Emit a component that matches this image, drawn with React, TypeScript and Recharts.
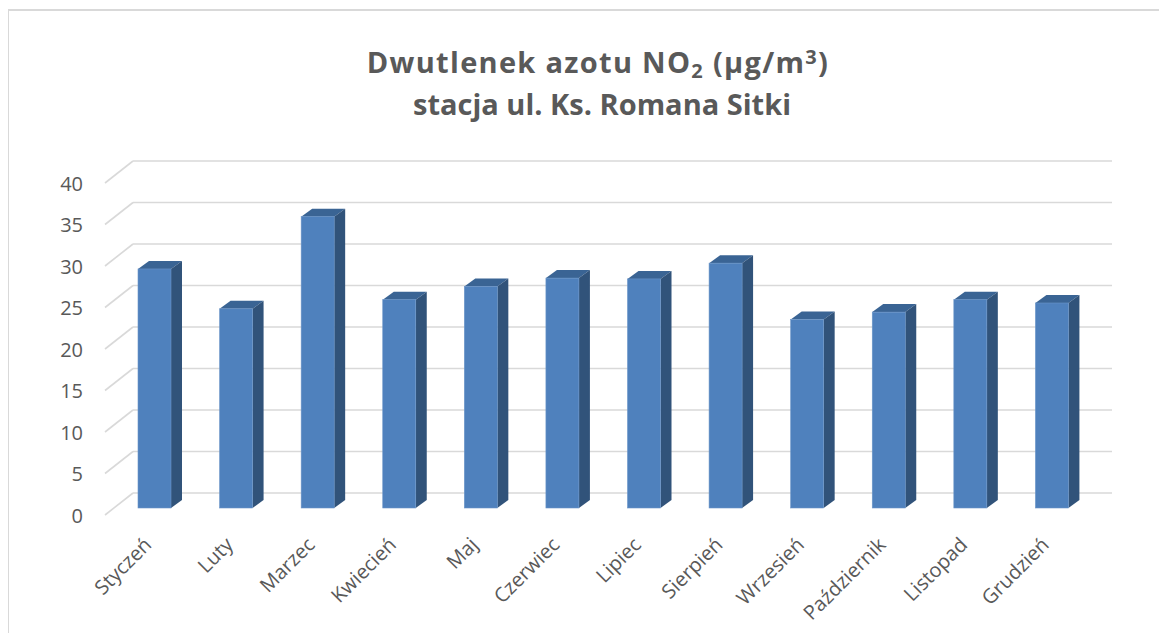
import { Bar, BarChart, CartesianGrid, XAxis, YAxis } from "recharts";

const months = [
  "Styczeń",
  "Luty",
  "Marzec",
  "Kwiecień",
  "Maj",
  "Czerwiec",
  "Lipiec",
  "Sierpień",
  "Wrzesień",
  "Październik",
  "Listopad",
  "Grudzień",
];
const no2 = [28.8, 24.0, 35.1, 25.1, 26.7, 27.7, 27.6, 29.5, 22.7, 23.6, 25.1, 24.7];
const yTicks = [0, 5, 10, 15, 20, 25, 30, 35, 40];

const data = months.map((m, i) => ({ month: m, value: no2[i] }));

const FONT = "'Open Sans', sans-serif";
const TEXT = "#595959";
const GRID = "#D9D9D9";

// perspective offsets, relative to the plane of the bars' front faces
const BACK = { dx: 19, dy: -15 };
const FRONT = { dx: -9, dy: 7 };
const DEPTH = { dx: 11, dy: -8 };
const WALL_RIGHT = 1112;

function Bar3D(props: any) {
  const { x, y, width, height } = props;
  const { dx, dy } = DEPTH;
  return (
    <g>
      <polygon
        points={`${x},${y} ${x + dx},${y + dy} ${x + width + dx},${y + dy} ${x + width},${y}`}
        fill="#3A6494"
      />
      <polygon
        points={`${x + width},${y} ${x + width + dx},${y + dy} ${x + width + dx},${y + height + dy} ${x + width},${y + height}`}
        fill="#31537A"
      />
      <rect x={x} y={y} width={width} height={height} fill="#4F81BD" stroke="#6B95C8" strokeWidth={0.6} />
    </g>
  );
}

function GridLine(props: any) {
  const { x1, y1 } = props;
  const xb = x1 + BACK.dx;
  const yb = y1 + BACK.dy;
  return (
    <g key={`g-${y1}`}>
      <line x1={xb} y1={yb} x2={WALL_RIGHT} y2={yb} stroke={GRID} strokeWidth={1.6} />
      <line x1={x1 + FRONT.dx} y1={y1 + FRONT.dy} x2={xb} y2={yb} stroke={GRID} strokeWidth={1.6} />
    </g>
  );
}

function YTick(props: any) {
  const { y, payload } = props;
  return (
    <text x={83} y={y + FRONT.dy} textAnchor="end" dominantBaseline="central" fill={TEXT} fontSize={20} fontFamily={FONT}>
      {payload.value}
    </text>
  );
}

function XTick(props: any) {
  const { x, payload } = props;
  const ax = x - 2;
  const ay = 546;
  return (
    <text
      x={ax}
      y={ay}
      textAnchor="end"
      fill={TEXT}
      fontSize={20}
      fontFamily={FONT}
      transform={`rotate(-45 ${ax} ${ay})`}
    >
      {payload.value}
    </text>
  );
}

const subStyle = { fontSize: 20, lineHeight: 0, verticalAlign: "-0.25em" } as const;
const supStyle = { fontSize: 20, lineHeight: 0, verticalAlign: "0.45em" } as const;

export default function App() {
  return (
    <div style={{ position: "relative", width: 1167, height: 641, margin: -8, background: "#fff", overflow: "hidden" }}>
      <div
        style={{
          position: "absolute",
          left: 7,
          top: 9,
          width: 1200,
          height: 700,
          borderLeft: `2px solid ${GRID}`,
          borderTop: `2px solid ${GRID}`,
        }}
      />
      <div
        style={{
          position: "absolute",
          left: 0,
          width: 1204,
          top: 41,
          textAlign: "center",
          fontFamily: FONT,
          fontWeight: 700,
          fontSize: 29,
          lineHeight: "42px",
          color: TEXT,
        }}
      >
        <div style={{ letterSpacing: 1.3, marginLeft: -8 }}>
          Dwutlenek azotu NO<span style={subStyle}>2</span> (µg/m<span style={supStyle}>3</span>)
        </div>
        <div>stacja ul. Ks. Romana Sitki</div>
      </div>
      <div style={{ position: "absolute", left: 0, top: 0 }}>
        <BarChart
          width={1167}
          height={641}
          data={data}
          margin={{ top: 176, right: 74, bottom: 103, left: 54 }}
        >
          <CartesianGrid vertical={false} horizontal={GridLine as any} />
          <XAxis dataKey="month" height={30} axisLine={false} tickLine={false} interval={0} tick={XTick as any} />
          <YAxis
            width={60}
            domain={[0, 40]}
            ticks={yTicks}
            axisLine={false}
            tickLine={false}
            tick={YTick as any}
          />
          <Bar dataKey="value" barSize={33} shape={Bar3D as any} isAnimationActive={false} />
        </BarChart>
      </div>
    </div>
  );
}
